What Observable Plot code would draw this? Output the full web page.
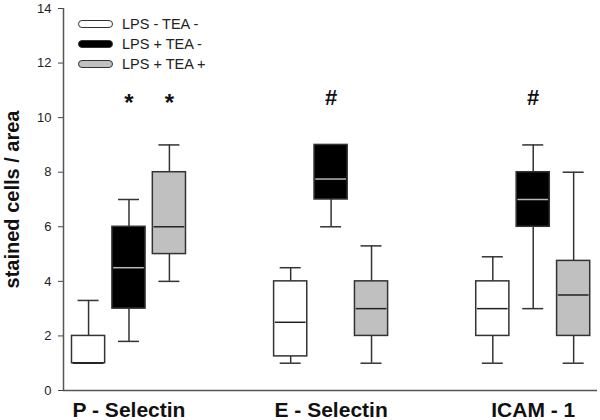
<!DOCTYPE html>
<html>
<head>
<meta charset="utf-8">
<script src="https://cdn.jsdelivr.net/npm/d3@7"></script>
<script src="https://cdn.jsdelivr.net/npm/@observablehq/plot@0.6"></script>
<style>
  html, body { margin: 0; padding: 0; background: #fff; }
  #wrap { position: relative; width: 600px; height: 420px; font-family: "Liberation Sans", Arial, sans-serif; }
  #wrap svg { display: block; }
  #legend { position: absolute; left: 78px; top: 14px; width: 160px; font-size: 14.5px; color: #222; }
  .row { position: relative; height: 20px; }
  .sw { position: absolute; left: 0; top: 6px; box-sizing: border-box; width: 35px; height: 8px; border: 1.5px solid #333; border-radius: 4px; }
  .lt { position: absolute; left: 44px; top: 1px; white-space: nowrap; line-height: 18px; }
</style>
</head>
<body>
<div id="wrap"><div id="legend"></div></div>
<script>
const groups = ["P - Selectin", "E - Selectin", "ICAM - 1"];
const series = ["LPS - TEA -", "LPS + TEA -", "LPS + TEA +"];
// per group, per series
const whiskerLow  = [[1, 1.8, 4], [1, 6, 1], [1, 3, 1]];
const quart1      = [[1, 3, 5], [1.25, 7, 2], [2, 6, 2]];
const medians     = [[1, 4.5, 6], [2.5, 7.75, 3], [3, 7, 3.5]];
const quart3      = [[2, 6, 8], [4, 9, 4], [4, 8, 4.75]];
const whiskerHigh = [[3.3, 7, 9], [4.5, 9, 5.3], [4.9, 9, 8]];
const yTicks = [0, 2, 4, 6, 8, 10, 12, 14];
const sigMarks = [
  {group: "P - Selectin", series: "LPS + TEA -", mark: "*"},
  {group: "P - Selectin", series: "LPS + TEA +", mark: "*"},
  {group: "E - Selectin", series: "LPS + TEA -", mark: "#"},
  {group: "ICAM - 1", series: "LPS + TEA -", mark: "#"}
];
const sigLevel = 10.7;
const yLabel = "stained cells / area";

const fills = ["#ffffff", "#000000", "#c0c0c0"];
const medianColors = ["#222", "#b8b8b8", "#222"];
const slotOf = (g, s) => g * 5 + s;

const rows = [];
groups.forEach((g, gi) => series.forEach((s, si) => rows.push({
  group: g, series: s, slot: slotOf(gi, si),
  lo: whiskerLow[gi][si], q1: quart1[gi][si], med: medians[gi][si],
  q3: quart3[gi][si], hi: whiskerHigh[gi][si],
  fill: fills[si], mc: medianColors[si]
})));
const sigRows = sigMarks.map(d => ({...d, slot: slotOf(groups.indexOf(d.group), series.indexOf(d.series)), y: sigLevel}));
const labelRows = groups.map((g, gi) => ({label: g, slot: slotOf(gi, 1)}));

const xDom = [-0.62, 12.59];
const bw = 0.41, cw = 0.26;
const stroke = "#333";

const chart = Plot.plot({
  width: 600, height: 420,
  marginLeft: 63, marginRight: 3, marginTop: 8, marginBottom: 30,
  style: {fontFamily: "'Liberation Sans', Arial, sans-serif", background: "white"},
  x: {domain: xDom, axis: null},
  y: {domain: [0, 14], axis: null},
  color: {type: "identity"},
  marks: [
    Plot.axisY(yTicks, {tickSize: 5, tickPadding: 7, fontSize: 13, stroke: "#444", fill: "#222", label: null}),
    Plot.ruleX([xDom[0]], {stroke: "#555", strokeWidth: 1.5}),
    Plot.ruleY([0], {stroke: "#555", strokeWidth: 1.5}),
    Plot.ruleX(rows, {x: "slot", y1: "lo", y2: "q1", stroke, strokeWidth: 1.5}),
    Plot.ruleX(rows, {x: "slot", y1: "q3", y2: "hi", stroke, strokeWidth: 1.5}),
    Plot.ruleY(rows, {y: "lo", x1: d => d.slot - cw, x2: d => d.slot + cw, stroke, strokeWidth: 1.5}),
    Plot.ruleY(rows, {y: "hi", x1: d => d.slot - cw, x2: d => d.slot + cw, stroke, strokeWidth: 1.5}),
    Plot.rect(rows, {x1: d => d.slot - bw, x2: d => d.slot + bw, y1: "q1", y2: "q3", fill: "fill", stroke, strokeWidth: 1.5}),
    Plot.ruleY(rows, {y: "med", x1: d => d.slot - bw + 0.03, x2: d => d.slot + bw - 0.03, stroke: "mc", strokeWidth: 1.5}),
    Plot.text(sigRows.filter(d => d.mark === "*"), {x: "slot", y: "y", text: "mark", fontSize: 24, fontWeight: "bold", fill: "#111", dy: 5}),
    Plot.text(sigRows.filter(d => d.mark === "#"), {x: "slot", y: "y", text: "mark", fontSize: 22, fontWeight: "bold", fill: "#111", dy: -1}),
    Plot.text(labelRows, {x: "slot", text: "label", frameAnchor: "bottom", lineAnchor: "bottom", dy: 26, fontSize: 21, fontWeight: "bold", fill: "#111"}),
    Plot.text([yLabel], {frameAnchor: "left", textAnchor: "middle", rotate: -90, dx: -51, fontSize: 20, fontWeight: "bold", fill: "#111"})
  ]
});
document.getElementById("wrap").prepend(chart);

const legend = document.getElementById("legend");
series.forEach((s, i) => {
  const row = document.createElement("div");
  row.className = "row";
  const sw = document.createElement("div");
  sw.className = "sw";
  sw.style.background = fills[i];
  const t = document.createElement("span");
  t.className = "lt";
  t.textContent = s;
  row.append(sw, t);
  legend.append(row);
});
</script>
</body>
</html>
